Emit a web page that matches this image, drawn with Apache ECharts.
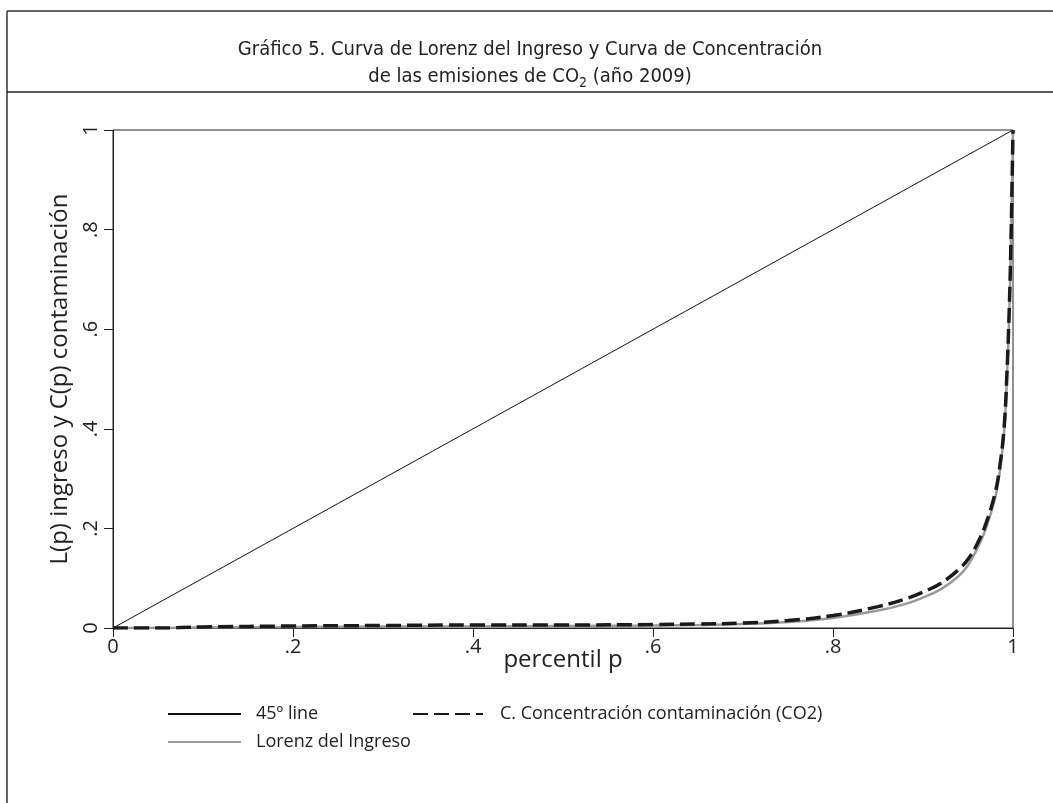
<!DOCTYPE html>
<html>
<head>
<meta charset="utf-8">
<script src="https://cdn.jsdelivr.net/npm/echarts@6/dist/echarts.min.js"></script>
<style>
  html, body { margin: 0; padding: 0; background: #fff; }
  #chart-container { width: 1053px; height: 803px; }
</style>
</head>
<body>
<div id="chart-container"></div>
<script>
var dom = document.getElementById("chart-container");
var myChart = echarts.init(dom, null, { renderer: "canvas" });

// tick labels (Stata style, no leading zero)
var tickLabels = ["0", ".2", ".4", ".6", ".8", "1"];

// percentiles p
var pLine = [0, 1];
var linePts = [0, 1];

var pCurve = [0, 0.05, 0.1, 0.2, 0.3, 0.4, 0.5, 0.6, 0.65, 0.7, 0.75, 0.8, 0.85, 0.88, 0.9, 0.92, 0.94, 0.95, 0.96, 0.97, 0.98, 0.985, 0.99, 0.993, 0.996, 0.998, 1];
// Lorenz del Ingreso L(p)
var lorenz = [0, 0, 0.001, 0.002, 0.003, 0.003, 0.004, 0.005, 0.006, 0.008, 0.012, 0.02, 0.035, 0.048, 0.061, 0.078, 0.105, 0.126, 0.158, 0.2, 0.26, 0.31, 0.39, 0.49, 0.64, 0.8, 1];
// C. Concentración contaminación (CO2) C(p)
var concentracion = [0, 0, 0.002, 0.004, 0.005, 0.006, 0.006, 0.007, 0.008, 0.01, 0.015, 0.025, 0.043, 0.058, 0.072, 0.09, 0.118, 0.138, 0.168, 0.21, 0.27, 0.32, 0.4, 0.5, 0.65, 0.8, 1];

function pairs(xs, ys) {
  return xs.map(function (x, i) { return [x, ys[i]]; });
}

function tickFormatter(value) {
  return tickLabels[Math.round(value / 0.2)];
}

var sansFont = "'Open Sans', 'DejaVu Sans', sans-serif";
var narrowFont = "'Liberation Sans Narrow', 'DejaVu Sans Condensed', sans-serif";

var legendText = { fontFamily: sansFont, fontSize: 18, color: "#222", padding: [0, 0, 0, 10] };

var option = {
  animation: false,
  backgroundColor: "#fff",
  title: {
    left: 525,
    textAlign: "center",
    top: 31,
    text: "Gráfico 5. Curva de Lorenz del Ingreso y Curva de Concentración\nde las emisiones de CO{sub|2} (año 2009)",
    textStyle: {
      fontFamily: narrowFont,
      fontSize: 20,
      fontWeight: "normal",
      color: "#222",
      lineHeight: 27,
      rich: {
        sub: {
          fontFamily: narrowFont,
          fontSize: 14,
          color: "#222",
          verticalAlign: "bottom",
          padding: [8, 0, 0, 0]
        }
      }
    }
  },
  graphic: [
    { type: "line", shape: { x1: 7, y1: 11, x2: 1053, y2: 11 }, style: { stroke: "#333", lineWidth: 1.5 } },
    { type: "line", shape: { x1: 7, y1: 11, x2: 7, y2: 803 }, style: { stroke: "#333", lineWidth: 1.5 } },
    { type: "line", shape: { x1: 7, y1: 92, x2: 1053, y2: 92 }, style: { stroke: "#222", lineWidth: 1.5 } }
  ],
  grid: {
    left: 113,
    right: 40,
    top: 130,
    bottom: 175,
    show: true,
    borderColor: "#222",
    borderWidth: 1,
    backgroundColor: "transparent"
  },
  legend: [
    {
      left: 167, top: 705, padding: 0,
      itemWidth: 73, itemHeight: 14,
      itemStyle: { opacity: 0 },
      data: ["45º line"],
      textStyle: legendText
    },
    {
      left: 167, top: 733, padding: 0,
      itemWidth: 73, itemHeight: 14,
      itemStyle: { opacity: 0 },
      data: ["Lorenz del Ingreso"],
      textStyle: legendText
    },
    {
      left: 412, top: 705, padding: 0,
      itemWidth: 70, itemHeight: 14,
      itemStyle: { opacity: 0 },
      data: ["C. Concentración contaminación (CO2)"],
      textStyle: { fontFamily: sansFont, fontSize: 18, color: "#222", padding: [0, 0, 0, 12] }
    }
  ],
  xAxis: {
    type: "value",
    min: 0,
    max: 1,
    interval: 0.2,
    name: "percentil p",
    nameLocation: "middle",
    nameGap: 20,
    nameMoveOverlap: false,
    nameTextStyle: { fontFamily: sansFont, fontSize: 24, color: "#222" },
    splitLine: { show: false },
    axisLine: { lineStyle: { color: "#222", width: 1 } },
    axisTick: { length: 9, lineStyle: { color: "#222" } },
    axisLabel: {
      formatter: tickFormatter,
      fontFamily: sansFont,
      fontSize: 20,
      color: "#222",
      margin: 9
    }
  },
  yAxis: {
    type: "value",
    min: 0,
    max: 1,
    interval: 0.2,
    name: "L(p) ingreso y C(p) contaminación",
    nameLocation: "middle",
    nameRotate: 90,
    nameGap: 41,
    nameMoveOverlap: false,
    nameTextStyle: { fontFamily: sansFont, fontSize: 24, color: "#222" },
    splitLine: { show: false },
    axisLine: { show: true, lineStyle: { color: "#222", width: 1 } },
    axisTick: { show: true, length: 9, lineStyle: { color: "#222" } },
    axisLabel: {
      formatter: tickFormatter,
      rotate: 90,
      fontFamily: sansFont,
      fontSize: 20,
      color: "#222",
      margin: 12
    }
  },
  series: [
    {
      name: "45º line",
      type: "line",
      symbol: "none",
      data: pairs(pLine, linePts),
      lineStyle: { color: "#111", width: 1 },
      itemStyle: { color: "#111" }
    },
    {
      name: "Lorenz del Ingreso",
      type: "line",
      symbol: "none",
      smooth: 0.4,
      data: pairs(pCurve, lorenz),
      lineStyle: { color: "#9a9a9a", width: 2.5 },
      itemStyle: { color: "#9a9a9a" }
    },
    {
      name: "C. Concentración contaminación (CO2)",
      type: "line",
      symbol: "none",
      smooth: 0.4,
      data: pairs(pCurve, concentracion),
      lineStyle: { color: "#1a1a1a", width: 3.5, type: [15, 6] },
      itemStyle: { color: "#1a1a1a" }
    }
  ]
};

myChart.setOption(option);
window.addEventListener("resize", myChart.resize);
</script>
</body>
</html>
